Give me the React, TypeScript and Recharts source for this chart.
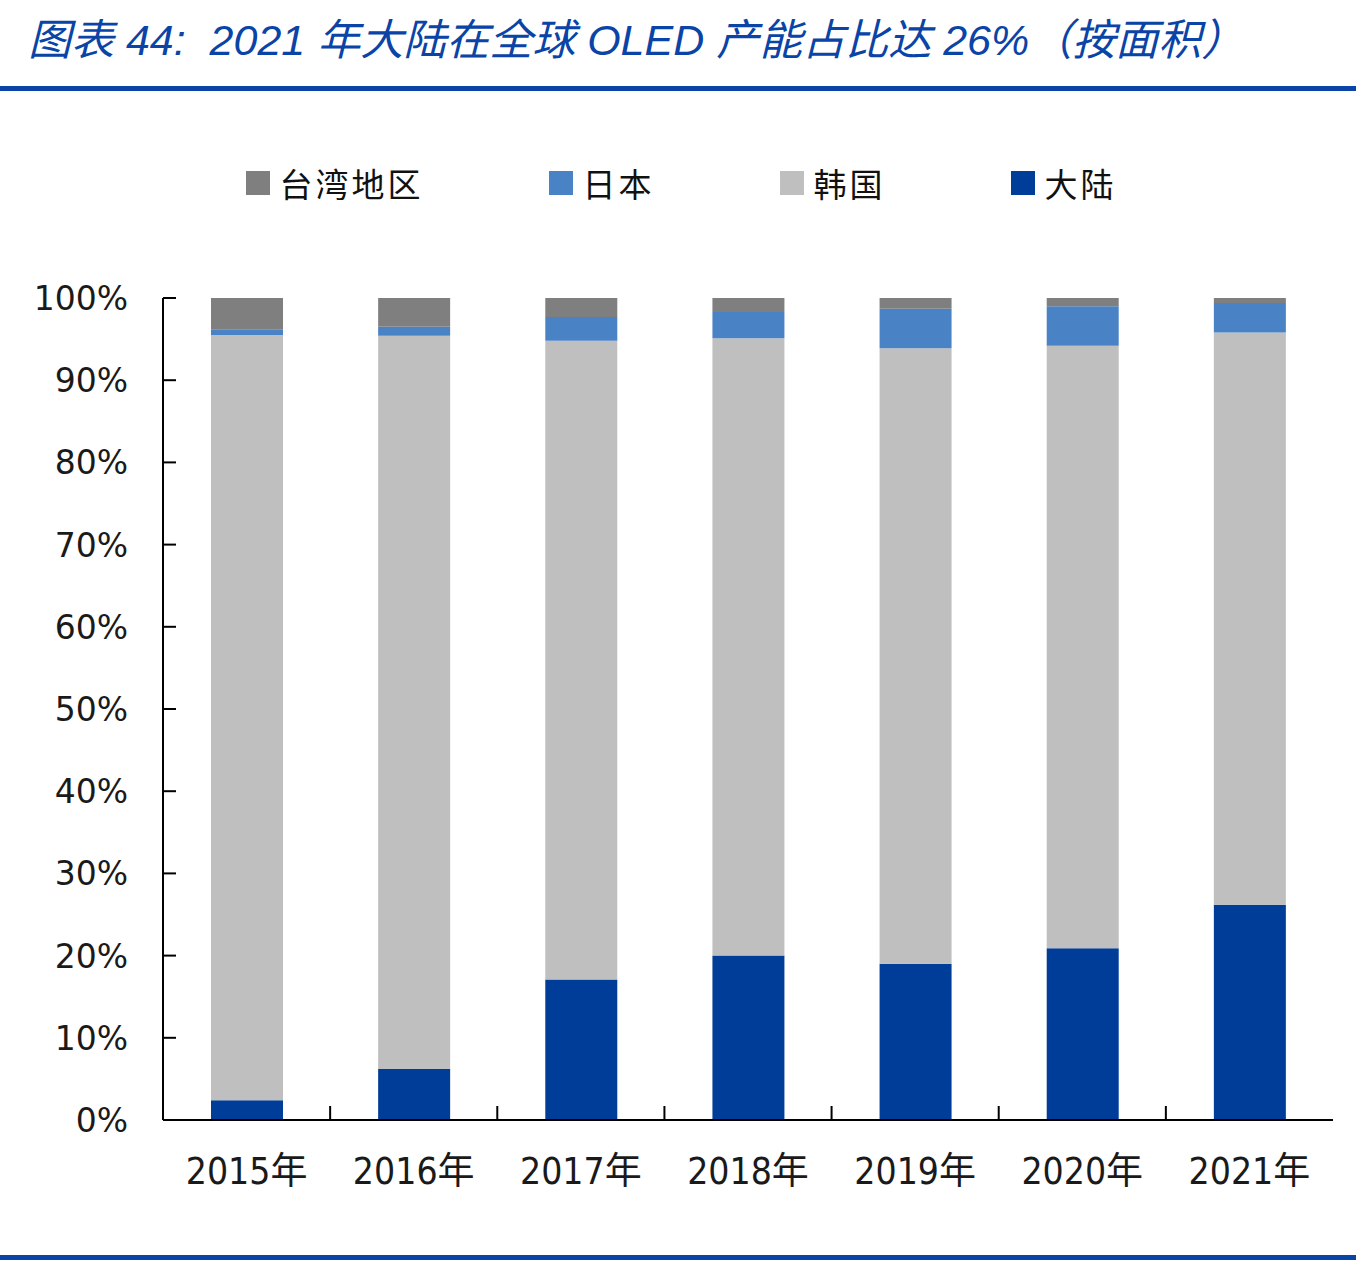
import React from 'react';
import { BarChart, Bar, XAxis, YAxis, Legend } from 'recharts';

// 全球OLED产能占比（按面积），%
const YEARS = ['2015年', '2016年', '2017年', '2018年', '2019年', '2020年', '2021年'];
const MAINLAND = [2.4, 6.2, 17.1, 20.0, 19.0, 20.9, 26.2];
const KOREA = [93.1, 89.2, 77.7, 75.1, 74.9, 73.3, 69.6];
const JAPAN = [0.7, 1.1, 2.9, 3.2, 4.8, 4.8, 3.6];
const TAIWAN = [3.8, 3.5, 2.3, 1.7, 1.3, 1.0, 0.6];
const Y_TICKS = [0, 10, 20, 30, 40, 50, 60, 70, 80, 90, 100];

// stacked bottom -> top
const SERIES = [
  { key: 'mainland', name: '大陆', color: '#003d99' },
  { key: 'korea', name: '韩国', color: '#bfbfbf' },
  { key: 'japan', name: '日本', color: '#4a82c6' },
  { key: 'taiwan', name: '台湾地区', color: '#7f7f7f' },
];
const LEGEND_ORDER = ['taiwan', 'japan', 'korea', 'mainland'];

const data = YEARS.map((year, i) => ({
  year,
  mainland: MAINLAND[i],
  korea: KOREA[i],
  japan: JAPAN[i],
  taiwan: TAIWAN[i],
}));

const W = 1362;
const H = 1266;
const MARGIN = { top: 166, right: 29, bottom: 86, left: 63 };
const Y_AXIS_W = 100;
const PLOT_W = W - MARGIN.left - MARGIN.right - Y_AXIS_W;
const BAND = PLOT_W / YEARS.length;

const BLUE = '#0a44a6';

const XTick = (props: any) => {
  const { x, y, payload, index } = props;
  const last = index === YEARS.length - 1;
  return (
    <g>
      {!last && <line x1={x + BAND / 2} y1={y} x2={x + BAND / 2} y2={y - 14} stroke="#000" strokeWidth={2} />}
      <text x={x} y={y + 64} textAnchor="middle" fill="#1a1a1a" fontSize={37}
        fontFamily="'DejaVu Sans Condensed', 'Liberation Sans', 'Noto Sans CJK SC', sans-serif">
        {payload.value}
      </text>
    </g>
  );
};

const YTick = (props: any) => {
  const { x, y, payload } = props;
  return (
    <g>
      <line x1={x} y1={y} x2={x + 13} y2={y} stroke="#000" strokeWidth={2} />
      <text x={x - 35} y={y + 12} textAnchor="end" fill="#1a1a1a" fontSize={33}
        fontFamily="'DejaVu Sans', sans-serif">
        {payload.value}%
      </text>
    </g>
  );
};

const LegendContent = () => (
  <div style={{ height: 132, display: 'flex', justifyContent: 'center', gap: 125 }}>
    {LEGEND_ORDER.map((k) => {
      const s = SERIES.find((d) => d.key === k)!;
      return (
        <div key={k} style={{ display: 'flex', alignItems: 'center', height: 34 }}>
          <span style={{ display: 'inline-block', width: 24, height: 24, background: s.color, marginRight: 10 }} />
          <span style={{ fontSize: 33, letterSpacing: 3, color: '#111', fontFamily: "'Noto Sans CJK SC', sans-serif", lineHeight: '34px' }}>
            {s.name}
          </span>
        </div>
      );
    })}
  </div>
);

export default function App() {
  return (
    <div style={{ position: 'absolute', left: 0, top: 0, width: W, height: H, background: '#fff', overflow: 'hidden' }}>
      <div style={{
        position: 'absolute', left: 28, top: 13, fontSize: 43, lineHeight: '54px', color: BLUE,
        fontStyle: 'italic', fontFamily: "'Liberation Sans', 'Noto Sans CJK SC', sans-serif", whiteSpace: 'pre',
      }}>
        图表 44:  2021 年大陆在全球 OLED 产能占比达 26%（按面积）
      </div>
      <div style={{ position: 'absolute', left: 0, top: 86, width: 1356, height: 5, background: BLUE }} />
      <div style={{ position: 'absolute', left: 0, top: 1255, width: 1356, height: 5, background: BLUE }} />
      <div style={{ position: 'absolute', left: 0, top: 0 }}>
        <BarChart width={W} height={H} data={data} margin={MARGIN}>
          <Legend verticalAlign="top" content={<LegendContent />} wrapperStyle={{ left: 0, width: W }} />
          <XAxis dataKey="year" height={60} tickSize={0} tickMargin={0} tickLine={false}
            axisLine={{ stroke: '#000', strokeWidth: 2 }} tick={<XTick />} interval={0} />
          <YAxis width={Y_AXIS_W} domain={[0, 100]} ticks={Y_TICKS} tickSize={0} tickMargin={0} tickLine={false}
            axisLine={{ stroke: '#000', strokeWidth: 2 }} tick={<YTick />} interval={0} />
          {SERIES.map((s) => (
            <Bar key={s.key} dataKey={s.key} name={s.name} stackId="a" fill={s.color} barSize={72} isAnimationActive={false} />
          ))}
        </BarChart>
      </div>
    </div>
  );
}
